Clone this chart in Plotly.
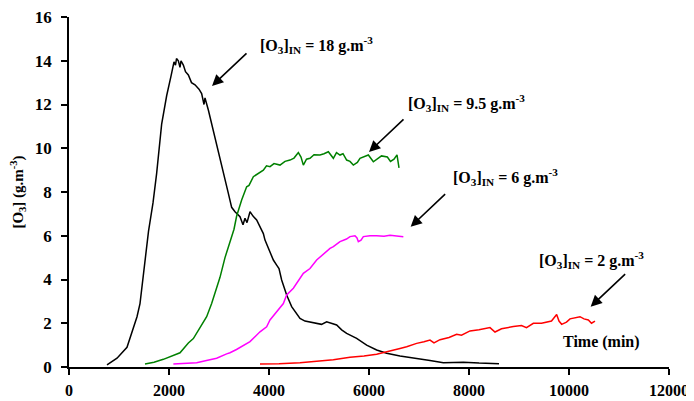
import plotly.graph_objects as go

# ---- data ----
black_x = [760, 960, 1160, 1220, 1360, 1420, 1520, 1590, 1680, 1753, 1853, 1953, 2040, 2100, 2130, 2150,
           2187, 2220, 2240, 2287, 2330, 2387, 2450, 2520, 2600, 2653, 2700, 2720, 2787, 2887, 2987, 3087, 3187,
           3253, 3320, 3420, 3480, 3520, 3560, 3620, 3680, 3753, 3887, 3920, 4020, 4087, 4153, 4200, 4253, 4353,
           4453, 4620, 4720, 4787, 4953, 5050, 5153, 5250, 5353, 5453, 5553, 5753, 5953, 6153, 6353, 6620, 6953,
           7220, 7487, 7887, 8200, 8600]
black_y = [0.1, 0.4, 0.9, 1.3, 2.3, 2.9, 4.8, 6.2, 7.5, 8.85, 11.1, 12.4, 13.3, 13.95, 13.8, 14.1,
           14.0, 13.7, 14.0, 13.8, 13.5, 13.35, 13.0, 12.9, 12.7, 12.5, 12.0, 12.3, 11.75, 10.83, 9.77, 8.85, 7.94,
           7.3, 7.1, 6.87, 6.5, 6.8, 6.6, 7.1, 6.9, 6.72, 6.1, 5.8, 5.3, 4.89, 4.66, 4.5, 3.98, 3.29,
           2.76, 2.22, 2.1, 2.07, 2.0, 1.95, 2.07, 2.0, 1.92, 1.7, 1.54, 1.31, 1.0, 0.78, 0.63, 0.5, 0.4,
           0.3, 0.2, 0.22, 0.18, 0.15]

green_x = [1520, 1700, 1887, 2050, 2220, 2387, 2487, 2620, 2753, 2853, 2953, 3020, 3120, 3220, 3300, 3353, 3453,
           3553, 3600, 3687, 3750, 3887, 3950, 4020, 4100, 4220, 4320, 4420, 4500, 4587, 4640, 4687, 4750, 4820,
           4900, 5020, 5100, 5187, 5287, 5350, 5420, 5480, 5553, 5620, 5687, 5767, 5820, 5900, 5987, 6087, 6167,
           6250, 6367, 6430, 6500, 6560, 6600]
green_y = [0.14, 0.22, 0.35, 0.5, 0.65, 1.1, 1.3, 1.8, 2.3, 2.9, 3.67, 4.1, 5.0, 5.7, 6.3, 6.9, 7.63,
           8.24, 8.3, 8.7, 8.8, 9.0, 9.2, 9.16, 9.3, 9.23, 9.4, 9.46, 9.55, 9.8, 9.6, 9.23, 9.5, 9.54,
           9.7, 9.69, 9.75, 9.84, 9.54, 9.8, 9.69, 9.75, 9.46, 9.4, 9.23, 9.35, 9.54, 9.6, 9.69, 9.38, 9.5,
           9.65, 9.6, 9.4, 9.5, 9.7, 9.1]

magenta_x = [2087, 2300, 2553, 2750, 2953, 3153, 3220, 3350, 3487, 3620, 3820, 3953, 4020, 4153, 4287, 4353,
             4487, 4687, 4820, 4953, 5087, 5220, 5287, 5420, 5550, 5620, 5720, 5760, 5787, 5840, 5887, 6020,
             6153, 6300, 6420, 6550, 6687]
magenta_y = [0.14, 0.17, 0.2, 0.3, 0.4, 0.6, 0.65, 0.8, 1.0, 1.16, 1.61, 1.84, 2.15, 2.5, 2.9, 3.29,
             3.6, 4.28, 4.5, 4.89, 5.15, 5.42, 5.5, 5.73, 5.85, 5.96, 6.0, 5.9, 5.73, 5.8, 5.96, 6.0,
             6.0, 5.98, 6.02, 6.0, 5.96]

red_x = [3820, 4200, 4620, 4953, 5287, 5620, 5900, 6153, 6420, 6620, 6753, 6953, 7100, 7220, 7300, 7420,
         7600, 7753, 7850, 8020, 8200, 8420, 8520, 8650, 8887, 9050, 9150, 9287, 9450, 9553, 9650, 9753,
         9800, 9853, 9950, 10020, 10120, 10220, 10300, 10387, 10450, 10520]
red_y = [0.14, 0.15, 0.2, 0.26, 0.33, 0.45, 0.5, 0.58, 0.72, 0.85, 0.93, 1.08, 1.15, 1.23, 1.1, 1.25,
         1.35, 1.5, 1.45, 1.65, 1.7, 1.8, 1.6, 1.75, 1.85, 1.9, 1.8, 2.0, 2.0, 2.07, 2.1, 2.4,
         2.1, 1.95, 2.05, 2.2, 2.25, 2.3, 2.2, 2.15, 2.0, 2.1]

x_ticks = [0, 2000, 4000, 6000, 8000, 10000, 12000]
y_ticks = [0, 2, 4, 6, 8, 10, 12, 14, 16]

labels = ["[O<sub>3</sub>]<sub>IN</sub> = 18 g.m<sup>-3</sup>",
          "[O<sub>3</sub>]<sub>IN</sub> = 9.5 g.m<sup>-3</sup>",
          "[O<sub>3</sub>]<sub>IN</sub> = 6 g.m<sup>-3</sup>",
          "[O<sub>3</sub>]<sub>IN</sub> = 2 g.m<sup>-3</sup>"]
label_pos = [(0.413, 0.92), (0.663, 0.754), (0.728, 0.543), (0.87, 0.306)]
arrow_tips = [(2860, 12.85), (6000, 9.83), (6833, 6.41), (10433, 2.76)]

FONT = "Liberation Serif"

fig = go.Figure()
for xs, ys, col in [(black_x, black_y, "black"), (green_x, green_y, "#008000"),
                    (magenta_x, magenta_y, "#FF00FF"), (red_x, red_y, "#FF0000")]:
    fig.add_trace(go.Scatter(x=xs, y=ys, mode="lines", line=dict(color=col, width=1.5),
                             showlegend=False, hoverinfo="skip"))

annotations = []
for txt, (px, py) in zip(labels, label_pos):
    annotations.append(dict(text="<b>" + txt + "</b>", xref="paper", yref="paper", x=px, y=py,
                            showarrow=False, font=dict(family=FONT, size=16, color="black"),
                            xanchor="center", yanchor="middle"))
for (tx, ty) in arrow_tips:
    annotations.append(dict(text="", x=tx, y=ty, xref="x", yref="y", showarrow=True,
                            ax=36, ay=-34, arrowhead=2, arrowsize=1.4, arrowwidth=1.6,
                            arrowcolor="black", standoff=0))
annotations.append(dict(text="<b>Time (min)</b>", xref="paper", yref="paper", x=0.887, y=0.071,
                        showarrow=False, font=dict(family=FONT, size=16, color="black"),
                        xanchor="center", yanchor="middle"))

# page body has an 8px default margin, so the figure is offset by (8, 8)
fig.update_layout(
    width=686, height=393,
    margin=dict(l=61, r=25, t=9, b=34),
    paper_bgcolor="white", plot_bgcolor="white",
    font=dict(family=FONT, size=17, color="black"),
    annotations=annotations,
    xaxis=dict(range=[0, 12000], tickvals=x_ticks, ticktext=[str(v) for v in x_ticks],
               showgrid=False, zeroline=False, showline=True, linecolor="black", linewidth=1.5,
               ticks="outside", ticklen=6, tickwidth=1.5, tickcolor="black", automargin=False,
               tickfont=dict(family=FONT, size=16, color="black", weight="bold"),
               ticklabelstandoff=2, ticklabeloverflow="allow"),
    yaxis=dict(range=[0, 16], tickvals=y_ticks, ticktext=[str(v) for v in y_ticks],
               showgrid=False, zeroline=False, showline=True, linecolor="black", linewidth=1.5,
               ticks="outside", ticklen=6, tickwidth=1.5, tickcolor="black", automargin=False,
               tickfont=dict(family=FONT, size=17, color="black", weight="bold"),
               ticklabelstandoff=6, ticklabeloverflow="allow",
               title=dict(text="<b>[O<sub>3</sub>] (g.m<sup>-3</sup>)</b>",
                          font=dict(family=FONT, size=15, color="black"), standoff=12)),
)

fig.write_html("out.html")
